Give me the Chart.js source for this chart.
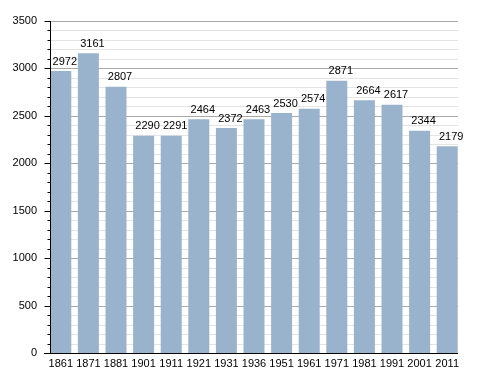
<!DOCTYPE html>
<html><head><meta charset="utf-8">
<script src="https://cdn.jsdelivr.net/npm/chart.js@4/dist/chart.umd.min.js"></script>
<style>html,body{margin:0;padding:0;background:#fff}#wrap{width:488px;height:373px}</style>
</head><body><div id="wrap"><canvas id="c" width="488" height="373"></canvas></div>
<script>
const years = ["1861","1871","1881","1901","1911","1921","1931","1936","1951","1961","1971","1981","1991","2001","2011"];
const population = [2972,3161,2807,2290,2291,2464,2372,2463,2530,2574,2871,2664,2617,2344,2179];
const yTicks = [0,500,1000,1500,2000,2500,3000,3500];

const FONT = 'Liberation Sans, Arial, sans-serif';

const decor = {
  id: 'decor',
  beforeDatasetsDraw(chart) {
    const ctx = chart.ctx, y = chart.scales.y;
    const x0 = 50, x1 = 458;
    ctx.save();
    ctx.lineWidth = 1;
    for (let v = 0; v <= 3500; v += 100) {
      const py = Math.round(y.getPixelForValue(v)) + 0.5;
      ctx.strokeStyle = (v % 500 === 0) ? '#a9a9a9' : '#e4e4e4';
      ctx.beginPath(); ctx.moveTo(x0, py); ctx.lineTo(x1, py); ctx.stroke();
    }
    ctx.restore();
  },
  afterDatasetsDraw(chart) {
    const ctx = chart.ctx, y = chart.scales.y;
    ctx.save();
    ctx.strokeStyle = '#000'; ctx.lineWidth = 1;
    const top = Math.round(y.getPixelForValue(3500)), bot = Math.round(y.getPixelForValue(0)) + 0.5;
    ctx.beginPath(); ctx.moveTo(50.5, top); ctx.lineTo(50.5, bot); ctx.stroke();
    for (let v = 0; v <= 3500; v += 100) {
      const py = Math.round(y.getPixelForValue(v)) + 0.5;
      const len = (v % 500 === 0) ? 6 : 3;
      ctx.beginPath(); ctx.moveTo(50.5 - len, py); ctx.lineTo(50.5, py); ctx.stroke();
    }
    ctx.beginPath(); ctx.moveTo(44, bot); ctx.lineTo(458, bot); ctx.stroke();
    ctx.fillStyle = '#000';
    ctx.font = '11px ' + FONT;
    ctx.textAlign = 'center'; ctx.textBaseline = 'bottom';
    const meta = chart.getDatasetMeta(0);
    meta.data.forEach((bar, i) => {
      ctx.fillText(String(population[i]), bar.x + 4, bar.y - 4);
    });
    ctx.restore();
  }
};

new Chart(document.getElementById('c'), {
  type: 'bar',
  data: {
    labels: years,
    datasets: [{
      data: population,
      backgroundColor: '#9ab3cd',
      borderWidth: 0,
      barPercentage: 0.86,
      categoryPercentage: 0.885
    }]
  },
  options: {
    responsive: false,
    animation: false,
    devicePixelRatio: 1,
    layout: { padding: { top: 21, right: 27, left: 0, bottom: 0 } },
    plugins: { legend: { display: false }, tooltip: { enabled: false } },
    scales: {
      x: {
        grid: { display: false, drawTicks: false },
        border: { display: false },
        ticks: { color: '#000', font: { family: FONT, size: 11 }, padding: 4, maxRotation: 0, autoSkip: false },
        afterFit(s) { s.height = 20; }
      },
      y: {
        min: 0, max: 3500,
        afterBuildTicks(s) { s.ticks = yTicks.map(v => ({ value: v })); },
        grid: { display: false, drawTicks: false },
        border: { display: false },
        ticks: { color: '#000', font: { family: FONT, size: 11 }, padding: 10, callback: v => String(v) },
        afterFit(s) { s.width = 47; }
      }
    }
  },
  plugins: [decor]
});
</script>
</body></html>
